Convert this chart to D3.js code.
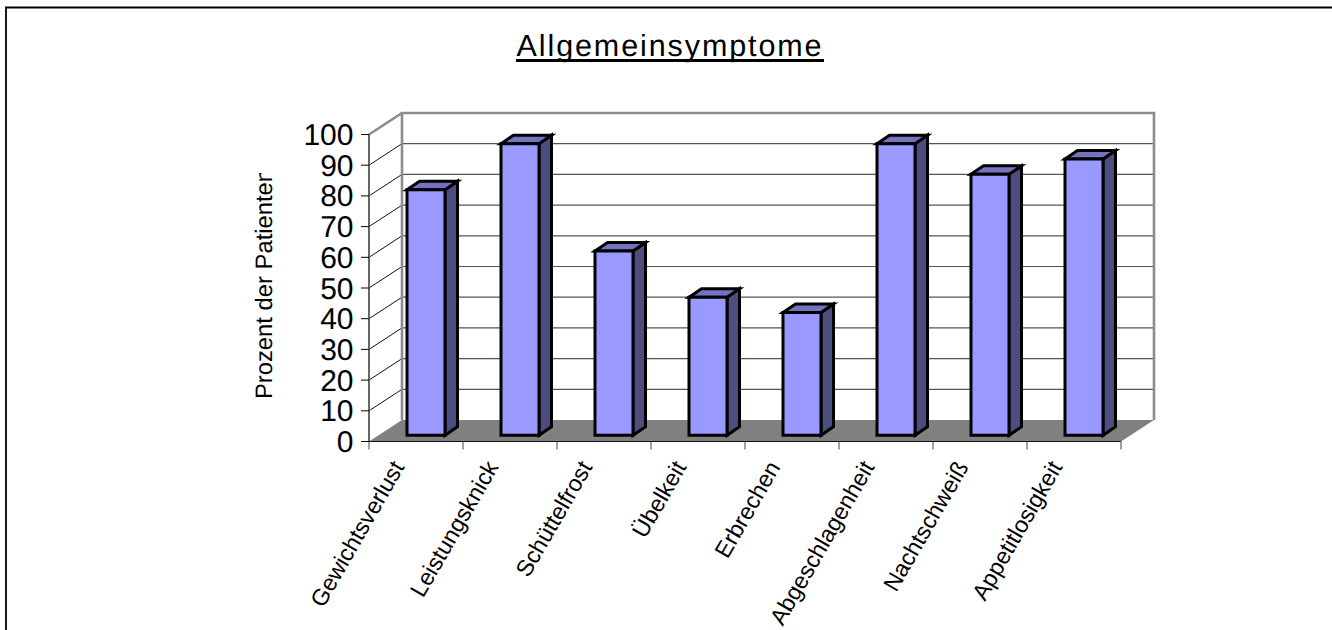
<!DOCTYPE html>
<html>
<head>
<meta charset="utf-8">
<script src="https://cdn.jsdelivr.net/npm/d3@7"></script>
<style>
html,body{margin:0;padding:0;background:#fff;}
svg{display:block;}
text{font-family:"Liberation Sans",Arial,sans-serif;fill:#000;text-rendering:geometricPrecision;}
</style>
</head>
<body>
<svg id="chart" width="1332" height="630"></svg>
<script>
const categories = ["Gewichtsverlust","Leistungsknick","Schüttelfrost","Übelkeit","Erbrechen","Abgeschlagenheit","Nachtschweiß","Appetitlosigkeit"];
const percentages = [80,95,60,45,40,95,85,90];
const yTicks = [0,10,20,30,40,50,60,70,80,90,100];
const titleText = "Allgemeinsymptome";
const yAxisLabel = "Prozent der Patienten";

const svg = d3.select("#chart");
const x = d3.scaleBand().domain(categories).range([369,1121]).paddingInner(0).paddingOuter(0);
const y = d3.scaleLinear().domain([0,100]).range([441.5,134.5]);

// 3D projection: offset from the front plane to the back wall, and bar depth
const depth = {dx:33, dy:-21.5};
const barInset = {dx:10.5, dy:-6.2};
const barDepth = {dx:12.5, dy:-8.5};
const barWidth = 38;

// Page frame: top and left edges only
svg.append("path").attr("d","M6,630V7.5H1332").attr("fill","none").attr("stroke","#000").attr("stroke-width",1.8);

// Title with a heavy underline
svg.append("text").attr("x",670).attr("y",56).attr("text-anchor","middle")
  .attr("font-size",30.5).attr("letter-spacing",1.9).text(titleText);
svg.append("line").attr("x1",516).attr("x2",824).attr("y1",60.5).attr("y2",60.5).attr("stroke","#000").attr("stroke-width",3);

const x0 = x.range()[0], x1 = x.range()[1], y0 = y(0), yTop = y(100);

// Floor
svg.append("path").attr("fill","#808080")
  .attr("d",`M${x0},${y0}L${x0+depth.dx},${y0+depth.dy}H${x1+depth.dx}L${x1},${y0}Z`);

// Back wall gridlines and side wall diagonals
yTicks.filter(t=>t>0 && t<100).forEach(t=>{
  svg.append("line").attr("x1",x0+depth.dx).attr("x2",x1+depth.dx)
    .attr("y1",y(t)+depth.dy).attr("y2",y(t)+depth.dy).attr("stroke","#555").attr("stroke-width",1.2);
});
yTicks.filter(t=>t>0 && t<100).forEach(t=>{
  svg.append("line").attr("x1",x0).attr("x2",x0+depth.dx)
    .attr("y1",y(t)).attr("y2",y(t)+depth.dy).attr("stroke","#111").attr("stroke-width",1);
});

// Wall outline
svg.append("path").attr("fill","none").attr("stroke","#8c8c8c").attr("stroke-width",2.6)
  .attr("d",`M${x0},${yTop}L${x0+depth.dx},${yTop+depth.dy}H${x1+depth.dx}V${y0+depth.dy}`);
svg.append("line").attr("x1",x0+depth.dx).attr("x2",x0+depth.dx).attr("y1",yTop+depth.dy).attr("y2",y0+depth.dy)
  .attr("stroke","#8c8c8c").attr("stroke-width",2.6);

// Axes on the front plane
svg.append("line").attr("x1",x0).attr("x2",x0).attr("y1",yTop).attr("y2",y0).attr("stroke","#666").attr("stroke-width",2);
svg.append("line").attr("x1",x0).attr("x2",x1).attr("y1",y0).attr("y2",y0).attr("stroke","#111").attr("stroke-width",1.2);

const yAxisTicks = svg.append("g");
yAxisTicks.selectAll("line").data(yTicks).join("line")
  .attr("x1",x0-8).attr("x2",x0).attr("y1",d=>y(d)).attr("y2",d=>y(d)).attr("stroke","#000").attr("stroke-width",1);
yAxisTicks.selectAll("text").data(yTicks).join("text")
  .attr("x",x0-15.5).attr("y",d=>y(d)+10.5).attr("text-anchor","end").attr("font-size",30).text(d=>d);

const edges = categories.map(c=>x(c)).concat([x1]);
svg.append("g").selectAll("line").data(edges).join("line")
  .attr("x1",d=>d).attr("x2",d=>d).attr("y1",y0).attr("y2",y0+8).attr("stroke","#444").attr("stroke-width",1);

// Bars
const bars = svg.append("g").selectAll("g").data(categories.map((c,i)=>({c,v:percentages[i]}))).join("g");
bars.each(function(d){
  const g = d3.select(this);
  const left = x(d.c)+barInset.dx+27.5;
  const right = left+barWidth;
  const top = y(d.v)+barInset.dy;
  const bottom = y0+barInset.dy;
  const dx = barDepth.dx, dy = barDepth.dy;
  const face = (fill,path)=>g.append("path").attr("d",path).attr("fill",fill)
    .attr("stroke","#000").attr("stroke-width",3).attr("stroke-linejoin","miter");
  face("#4d4d80",`M${right},${top}L${right+dx},${top+dy}V${bottom+dy}L${right},${bottom}Z`);
  face("#7373bf",`M${left},${top}L${left+dx},${top+dy}H${right+dx}L${right},${top}Z`);
  face("#9999ff",`M${left},${top}H${right}V${bottom}H${left}Z`);
});

// Category labels, rotated and ending under the ticks
svg.append("g").selectAll("text").data(categories).join("text")
  .attr("font-size",23.2).attr("text-anchor","end")
  .attr("transform",d=>`translate(${x(d)+x.bandwidth()/2-11},${y0+25.5}) rotate(-60)`)
  .text(d=>d);

// Y axis title, cut off at the top of its box
svg.append("clipPath").attr("id","ytitle-box").append("rect")
  .attr("x",240).attr("y",173).attr("width",40).attr("height",240);
svg.append("g").attr("clip-path","url(#ytitle-box)")
  .append("text").attr("font-size",23.8).attr("text-anchor","middle")
  .attr("transform","translate(272,284) rotate(-90)").text(yAxisLabel);
</script>
</body>
</html>
